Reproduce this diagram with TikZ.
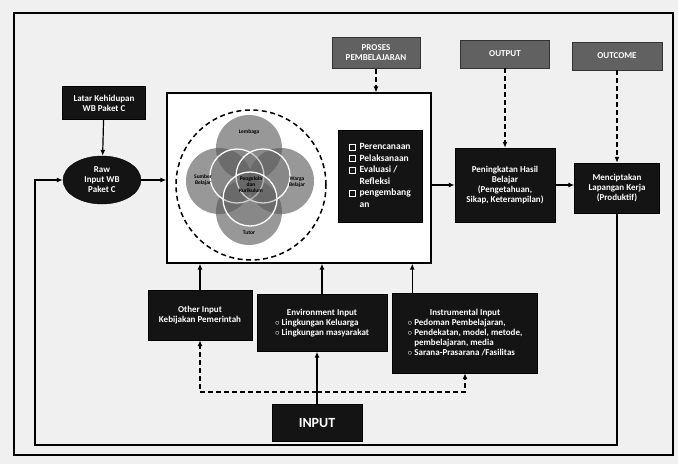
\documentclass[tikz,border=0pt]{standalone}
\usepackage{fontspec}
\setmainfont{Carlito}
\usetikzlibrary{arrows.meta,
	calc,
	positioning,
	shapes.geometric}
\tikzstyle{blk}=[draw=black, fill=black!92, text=white, font=\bfseries\fontsize{9}{10}\selectfont, align=center, inner sep=1pt]
\tikzstyle{hdr}=[draw=black!80, fill=black!62, text=white, font=\bfseries\fontsize{9}{10}\selectfont, align=center, inner sep=1pt]
\tikzstyle{ln}=[line width=1.2pt, -{Latex[length=6pt,width=5pt]}]
\tikzstyle{dl}=[ln, dash pattern=on 5pt off 3pt]
\tikzstyle{venn}=[circle, fill=black!65, fill opacity=0.62, minimum size=66pt, inner sep=0]
\tikzstyle{ring}=[circle, draw=white, line width=1.3pt, fill=black!60, fill opacity=0.3, draw opacity=1, minimum size=54pt, inner sep=0]
\tikzstyle{vtxt}=[font=\bfseries\fontsize{5.5}{6}\selectfont, align=center, text=black]
\newcommand{\ckbox}{{\fboxsep=0pt\fboxrule=0.7pt\fbox{\rule{0pt}{5pt}\hspace{5pt}}}}
\begin{document}
\begin{tikzpicture}[x=1pt,y=-1pt]
        \useasboundingbox (0,0) rectangle (678,464);
        \fill[black!6] (0,0) rectangle (678,464);
        \draw[line width=2pt] (14,13) rectangle (673,455);
        \node[blk, minimum width=83pt, minimum height=33pt] (latar) at (104,103) {Latar Kehidupan\\WB Paket C};
        \node[blk, ellipse, minimum width=78pt, minimum height=48pt, inner sep=0pt] (raw) at (102,180) {Raw\\Input WB\\Paket C};
        \draw[ln] (latar) -- (raw);
        \node[draw, line width=1.2pt, fill=white, minimum width=264pt, minimum height=170pt] (proses) at (299,178) {};
        \draw[ln] (raw.east) -- (raw.east -| proses.west);
        \draw[line width=1.5pt, dash pattern=on 5pt off 3.5pt] (251,185) circle[radius=75pt];
        \node[venn] (vtop) at (249,148) {};
        \node[venn] (vleft) at (219,181) {};
        \node[venn] (vright) at (281,181) {};
        \node[venn] (vbot) at (249,212) {};
        \node[ring] (rleft) at (237,176) {};
        \node[ring] (rright) at (263,176) {};
        \node[ring] (rbot) at (250,199) {};
        \node[vtxt] (ttop) at (249,132) {Lembaga};
        \node[vtxt] (tleft) at (203,180) {Sumber\\Belajar};
        \node[vtxt] (tright) at (297,182) {Warga\\Belajar};
        \node[vtxt] (tbot) at (249,233) {Tutor};
        \node[vtxt] (tmid) at (251,185) {Pengelola\\dan\\Kurikulum};
        \node[blk, minimum width=84pt, minimum height=92pt, font=\bfseries\fontsize{9.5}{11.5}\selectfont] (tahap) at (380,176) {\begin{tabular}{@{}l@{\hspace{4pt}}l@{}}
            \ckbox & Perencanaan\\
            \ckbox & Pelaksanaan\\
            \ckbox & Evaluasi /\\
            & Refleksi\\
            \ckbox & pengembang\\
            & an
        \end{tabular}};
        \node[hdr, minimum width=88pt, minimum height=31pt] (hproses) at (376,53) {PROSES\\PEMBELAJARAN};
        \node[hdr, minimum width=89pt, minimum height=28pt] (houtput) at (505,54) {OUTPUT};
        \node[hdr, minimum width=90pt, minimum height=28pt] (houtcome) at (617,56) {OUTCOME};
        \draw[dl] (hproses.south) -- (hproses.south |- proses.north);
        \node[blk, minimum width=100pt, minimum height=74pt] (hasil) at (505,185) {Peningkatan Hasil\\Belajar\\(Pengetahuan,\\Sikap, Keterampilan)};
        \node[blk, minimum width=85pt, minimum height=50pt] (kerja) at (617,188) {Menciptakan\\Lapangan Kerja\\(Produktif)};
        \draw[ln] (proses.east |- hasil.west) -- (hasil.west);
        \draw[ln] (hasil.east) -- (hasil.east -| kerja.west);
        \draw[dl] (houtput.south) -- (hasil.north);
        \draw[dl] (houtcome.south) -- (kerja.north);
        \coordinate (fb) at (35,445);
        \draw[ln] (kerja.south) |- (fb) |- (raw.west);
        \node[blk, minimum width=104pt, minimum height=50pt] (other) at (200,315) {Other Input\\Kebijakan Pemerintah};
        \node[blk, minimum width=130pt, minimum height=57pt] (env) at (322,323) {\begin{tabular}{@{}l@{}}
            \multicolumn{1}{c}{Environment Input}\\
            $\circ$ Lingkungan Keluarga\\
            $\circ$ Lingkungan masyarakat
        \end{tabular}};
        \node[blk, minimum width=145pt, minimum height=80pt] (instr) at (465,333) {\begin{tabular}{@{}l@{}}
            \multicolumn{1}{c}{Instrumental Input}\\
            $\circ$ Pedoman Pembelajaran,\\
            $\circ$ Pendekatan, model, metode,\\
            \phantom{$\circ$} pembelajaran, media\\
            $\circ$ Sarana-Prasarana /Fasilitas
        \end{tabular}};
        \draw[ln] (other.north) -- (other.north |- proses.south);
        \draw[ln] (env.north) -- (env.north |- proses.south);
        \draw[ln] ([xshift=20pt]instr.north west) -- ([xshift=20pt]instr.north west |- proses.south);
        \node[blk, minimum width=90pt, minimum height=37pt, font=\bfseries\fontsize{14}{16}\selectfont] (input) at (317,423) {INPUT};
        \draw[ln] (input.north) -- (input.north |- env.south);
        \coordinate (split) at (input.north |- 0,392);
        \draw[dl] (split) -| (other.south);
        \draw[dl] (split) -| (instr.south);
    \end{tikzpicture}
\end{document}
